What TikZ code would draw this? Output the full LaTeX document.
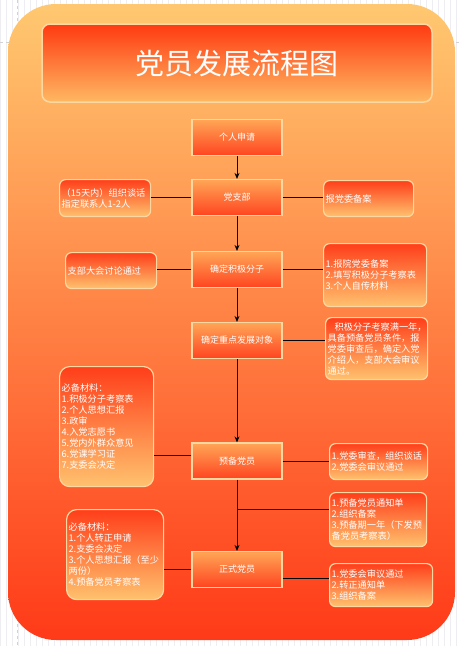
\documentclass[tikz,border=0pt]{standalone}
\usepackage{fontspec}
\setmainfont{Noto Sans CJK SC}
\usetikzlibrary{arrows.meta,calc}
\definecolor{bgTop}{HTML}{FFC870}
\definecolor{bgMid}{HTML}{FF8642}
\definecolor{bgBot}{HTML}{FF3A18}
\definecolor{edgeC}{HTML}{FFD7A0}
\definecolor{mTop}{HTML}{FFA656}
\definecolor{mBot}{HTML}{FF4420}
\definecolor{sTop}{HTML}{FF3E1A}
\definecolor{sBot}{HTML}{FFC26E}
\definecolor{tTop}{HTML}{FF3A12}
\definecolor{tBot}{HTML}{FFB862}
\definecolor{gridC}{HTML}{EEEEF2}
\tikzset{
  mainbox/.style={draw=edgeC, line width=1.2pt, top color=mTop, bottom color=mBot,
    minimum width=90pt, minimum height=36pt, inner sep=0pt, text=white,
    font=\fontsize{9}{11}\selectfont},
  sidebox/.style={draw=edgeC, line width=1.2pt, rounded corners=6pt, top color=sTop,
    bottom color=sBot, text=white, align=left, anchor=north west, inner sep=2pt,
    font=\fontsize{9.2}{11}\selectfont},
  tallbox/.style={sidebox, rounded corners=10pt},
  link/.style={draw=black, line width=0.8pt},
  flow/.style={link, -{Stealth[length=6pt,width=5pt]}}
}
\begin{document}
\begin{tikzpicture}[x=1pt,y=-1pt]
\useasboundingbox (0,0) rectangle (461,646);
\fill[white] (0,0) rectangle (461,646);
\draw[gridC, line width=0.4pt, step=6] (0,0) grid (461,646);
\draw[gray!35, dashed, line width=0.4pt] (17,0) -- (17,646);
\draw[gray!35, dashed, line width=0.4pt] (0,42) -- (461,42);
% background panel
\path[rounded corners=48pt, top color=bgTop, middle color=bgMid, bottom color=bgBot]
  (8,4) rectangle (455,640);
% title
\node[draw=edgeC, line width=1.5pt, rounded corners=8pt, top color=tTop, bottom color=tBot,
  minimum width=390pt, minimum height=78pt, text=white, font=\fontsize{29}{32}\selectfont]
  (title) at (237,63) {党员发展流程图};
% main flow
\node[mainbox] (c1) at (237,137.5) {个人申请};
\node[mainbox] (c2) at (237,197.5) {党支部};
\node[mainbox] (c3) at (237,269.5) {确定积极分子};
\node[mainbox] (c4) at (237,340.5) {确定重点发展对象};
\node[mainbox] (c5) at (237,461) {预备党员};
\node[mainbox] (c6) at (237,569.5) {正式党员};
% side boxes
\node[sidebox, minimum width=91pt, minimum height=37pt, text width=87pt] (l1) at (59,179)
  {（15天内）组织谈话\\指定联系人1-2人};
\node[sidebox, minimum width=90pt, minimum height=36pt, text width=86pt] (r1) at (323,180)
  {报党委备案};
\node[sidebox, minimum width=91pt, minimum height=36pt, text width=87pt] (l2) at (65,252)
  {支部大会讨论通过};
\node[sidebox, minimum width=103pt, minimum height=63pt, text width=99pt] (r2) at (323,243)
  {1.报院党委备案\\2.填写积极分子考察表\\3.个人自传材料};
\node[sidebox, minimum width=102pt, minimum height=62pt, text width=98pt] (r3) at (325,317)
  {\hspace*{7pt}积极分子考察满一年，\\具备预备党员条件，报\\党委审查后，确定入党\\介绍人，支部大会审议\\通过。};
\node[tallbox, minimum width=94pt, minimum height=120pt, text width=90pt] (l3) at (59,366)
  {必备材料：\\1.积极分子考察表\\2.个人思想汇报\\3.政审\\4.入党志愿书\\5.党内外群众意见\\6.党课学习证\\7.支委会决定};
\node[sidebox, minimum width=98pt, minimum height=36pt, text width=94pt] (r4) at (329,443)
  {1.党委审查，组织谈话\\2.党委会审议通过};
\node[sidebox, minimum width=97pt, minimum height=54pt, text width=93pt] (r5) at (329,492)
  {1.预备党员通知单\\2.组织备案\\3.预备期一年（下发预\\备党员考察表）};
\node[tallbox, minimum width=97pt, minimum height=90pt, text width=93pt] (l4) at (66,509)
  {必备材料：\\1.个人转正申请\\2.支委会决定\\3.个人思想汇报（至少\\两份）\\4.预备党员考察表};
\node[sidebox, minimum width=103pt, minimum height=43pt, text width=99pt] (r6) at (329,563)
  {1.党委会审议通过\\2.转正通知单\\3.组织备案};
% vertical flow
\draw[flow] (c1) -- (c2);
\draw[flow] (c2) -- (c3);
\draw[flow] (c3) -- (c4);
\draw[flow] (c4) -- (c5);
\draw[flow] (c5) -- (c6);
% side links
\draw[link] (c2.west) -- (c2.west -| l1.east);
\draw[link] (c2.east) -- (c2.east -| r1.west);
\draw[link] (c3.west) -- (c3.west -| l2.east);
\draw[link] (c3.east) -- (c3.east -| r2.west);
\draw[link] (c4.east) -- (c4.east -| r3.west);
\draw[link] ([yshift=6pt]c5.west) -- ([yshift=6pt]c5.west -| l3.east);
\draw[link] (c5.east) -- (c5.east -| r4.west);
\coordinate (j) at (237,509);
\draw[link] (j) -- (j -| r5.west);
\draw[link] (c6.west) -- (c6.west -| l4.east);
\draw[link] ([yshift=-8.5pt]c6.east) -- ([yshift=-8.5pt]c6.east -| r6.west);
\end{tikzpicture}
\end{document}
